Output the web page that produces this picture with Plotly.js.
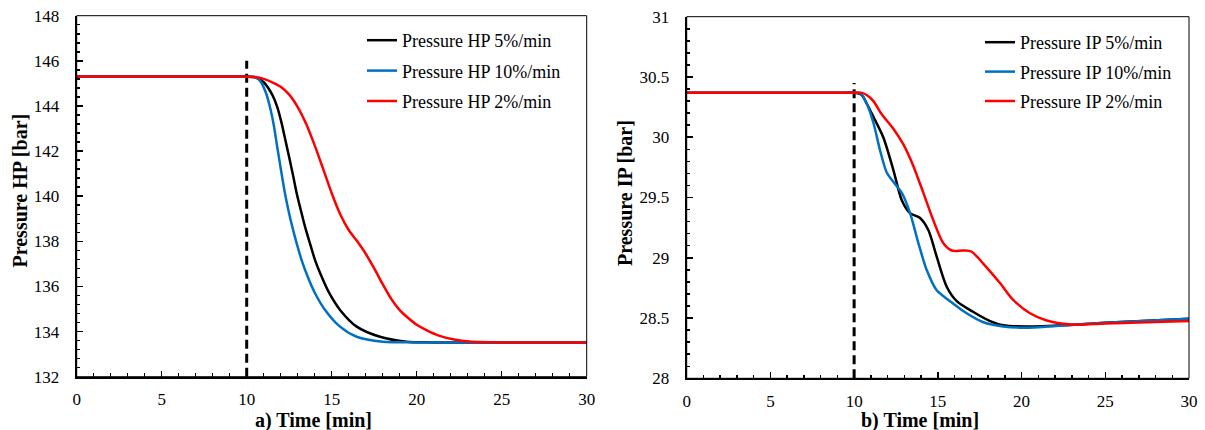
<!DOCTYPE html>
<html>
<head>
<meta charset="utf-8">
<script src="https://cdn.plot.ly/plotly-3.0.1.min.js"></script>
<style>html,body{margin:0;padding:0;background:#fff;}#chart{width:1205px;height:430px;}</style>
</head>
<body>
<div id="chart"></div>
<script>
// ---- Data ----
// a) HP pressure
const timeHP5  = [0, 5, 9, 9.5, 10, 10.5, 11.0, 11.5, 11.8, 12.05, 12.3, 12.55, 12.74, 12.94, 13.18, 13.43, 13.72, 14.02, 14.41, 14.86, 15.49, 16.47, 17.84, 19.4, 21, 25, 30];
const hp5      = [145.3, 145.3, 145.3, 145.3, 145.3, 145.27, 145.05, 144.5, 143.95, 143.25, 142.4, 141.55, 140.87, 140.13, 139.39, 138.65, 137.91, 137.17, 136.43, 135.70, 134.96, 134.22, 133.77, 133.55, 133.52, 133.52, 133.52];
const timeHP10 = [0, 5, 9, 9.5, 10, 10.5, 10.8, 11.14, 11.41, 11.61, 11.76, 11.92, 12.08, 12.25, 12.45, 12.68, 12.94, 13.23, 13.59, 14.02, 14.61, 15.49, 16.47, 18.0, 20, 25, 30];
const hp10     = [145.3, 145.3, 145.3, 145.3, 145.3, 145.28, 145.1, 144.56, 143.82, 143.08, 142.35, 141.61, 140.87, 140.13, 139.39, 138.65, 137.91, 137.17, 136.43, 135.70, 134.96, 134.22, 133.77, 133.55, 133.52, 133.52, 133.52];
const timeHP2  = [0, 5, 9, 9.5, 10, 10.5, 11.0, 11.5, 12.0, 12.5, 13.0, 13.5, 14.0, 14.5, 15.0, 15.5, 16.0, 16.5, 17.0, 17.5, 18.0, 18.5, 19.0, 19.5, 20.0, 20.6, 21.3, 22.2, 23.1, 25, 30];
const hp2      = [145.3, 145.3, 145.3, 145.3, 145.3, 145.28, 145.2, 145.05, 144.85, 144.5, 143.95, 143.2, 142.25, 141.2, 140.13, 139.2, 138.5, 138.0, 137.45, 136.8, 136.1, 135.45, 134.95, 134.6, 134.3, 134.05, 133.82, 133.65, 133.56, 133.52, 133.52];
// b) IP pressure
const timeIP5  = [0, 5, 9, 9.5, 10, 10.45, 10.75, 11.15, 11.74, 12.34, 12.84, 13.34, 13.94, 14.43, 14.93, 15.53, 16.13, 17.12, 18.12, 18.9, 20.3, 23.1, 25, 30];
const ip5      = [30.37, 30.37, 30.37, 30.37, 30.37, 30.35, 30.28, 30.17, 30.0, 29.73, 29.48, 29.37, 29.33, 29.23, 29.01, 28.76, 28.64, 28.55, 28.475, 28.44, 28.43, 28.445, 28.46, 28.495];
const timeIP10 = [0, 5, 9, 9.5, 10, 10.4, 10.75, 11.15, 11.55, 11.94, 12.34, 12.84, 13.34, 13.84, 14.33, 14.93, 15.73, 16.72, 17.72, 18.9, 20.3, 23.1, 25, 30];
const ip10     = [30.37, 30.37, 30.37, 30.37, 30.37, 30.36, 30.28, 30.12, 29.89, 29.71, 29.63, 29.54, 29.37, 29.12, 28.90, 28.73, 28.64, 28.54, 28.465, 28.43, 28.42, 28.445, 28.46, 28.495];
const timeIP2  = [0, 5, 9, 9.5, 10, 10.4, 10.75, 11.15, 11.65, 12.34, 12.94, 13.54, 14.13, 14.73, 15.33, 15.83, 16.53, 17.02, 17.72, 18.71, 19.5, 20.5, 21.5, 23.1, 25, 30];
const ip2      = [30.37, 30.37, 30.37, 30.37, 30.37, 30.37, 30.35, 30.30, 30.19, 30.07, 29.94, 29.76, 29.54, 29.31, 29.12, 29.06, 29.06, 29.05, 28.95, 28.79, 28.65, 28.54, 28.48, 28.445, 28.455, 28.475];
// step marker (dashed vertical line)
const stepTime = [10, 10];
const stepHP   = [132, 146];
const stepIP   = [28, 30.45];
// labels
const namesHP = ['Pressure HP 5%/min', 'Pressure HP 10%/min', 'Pressure HP 2%/min'];
const namesIP = ['Pressure IP 5%/min', 'Pressure IP 10%/min', 'Pressure IP 2%/min'];
const colors  = ['#000000', '#0070C0', '#FF0000'];
const xTitleA = 'a) Time [min]';
const xTitleB = 'b) Time [min]';
const yTitleA = 'Pressure HP [bar]';
const yTitleB = 'Pressure IP [bar]';

// ---- Traces ----
const FONT = 'Liberation Serif, Times New Roman, serif';
function curve(x, y, name, color, xa, ya, leg, grp) {
  return {x: x, y: y, name: name, type: 'scatter', mode: 'lines',
          line: {color: color, width: 2.5, shape: 'spline', smoothing: 0.8},
          xaxis: xa, yaxis: ya, legend: leg, legendgroup: grp, hoverinfo: 'skip'};
}
const data = [
  {x: stepTime, y: stepHP, type: 'scatter', mode: 'lines', showlegend: false,
   line: {color: '#000', width: 3, dash: '9px,5px'}, xaxis: 'x', yaxis: 'y'},
  {x: stepTime, y: stepIP, type: 'scatter', mode: 'lines', showlegend: false,
   line: {color: '#000', width: 3, dash: '9px,5px'}, xaxis: 'x2', yaxis: 'y2'},
  curve(timeHP5,  hp5,  namesHP[0], colors[0], 'x', 'y', 'legend', 'a1'),
  curve(timeHP10, hp10, namesHP[1], colors[1], 'x', 'y', 'legend', 'a2'),
  curve(timeHP2,  hp2,  namesHP[2], colors[2], 'x', 'y', 'legend', 'a3'),
  curve(timeIP5,  ip5,  namesIP[0], colors[0], 'x2', 'y2', 'legend2', 'b1'),
  curve(timeIP10, ip10, namesIP[1], colors[1], 'x2', 'y2', 'legend2', 'b2'),
  curve(timeIP2,  ip2,  namesIP[2], colors[2], 'x2', 'y2', 'legend2', 'b3'),
];

// ---- Layout ----
const tickFont = {family: FONT, size: 17, color: '#000'};
function xax(domain, anchor) {
  return {domain: domain, anchor: anchor, range: [0, 30], tick0: 0, dtick: 5,
          ticks: 'inside', ticklen: 6, tickwidth: 1.5, tickcolor: '#000',
          showline: true, linewidth: 2, linecolor: '#000', showgrid: false, zeroline: false,
          minor: {ticks: 'inside', dtick: 1, ticklen: 3.5, tickwidth: 1.5, tickcolor: '#000', showgrid: false},
          tickfont: tickFont, ticklabelstandoff: 6, fixedrange: true};
}
function yax(domain, anchor, range, dtick, mdtick) {
  return {domain: domain, anchor: anchor, range: range, tick0: range[0], dtick: dtick,
          ticks: 'inside', ticklen: 6, tickwidth: 1.5, tickcolor: '#000',
          showline: true, linewidth: 2, linecolor: '#000', showgrid: false, zeroline: false,
          minor: {ticks: 'inside', dtick: mdtick, ticklen: 3.5, tickwidth: 1.5, tickcolor: '#000', showgrid: false},
          tickfont: tickFont, ticklabelstandoff: 12, fixedrange: true};
}
const legFont = {family: FONT, size: 18, color: '#000'};
const titleFont = {family: FONT, size: 20, color: '#000', weight: 'bold'};
const layout = {
  width: 1205, height: 430,
  margin: {l: 0, r: 0, t: 0, b: 0},
  paper_bgcolor: '#fff', plot_bgcolor: '#fff',
  showlegend: true,
  xaxis: xax([76.7/1205, 586.7/1205], 'y'),
  yaxis: yax([53.3/430, 414.3/430], 'x', [132, 148], 2, 0.4),
  xaxis2: xax([686.7/1205, 1189/1205], 'y2'),
  yaxis2: yax([51.7/430, 413.3/430], 'x2', [28, 31], 0.5, 0.1),
  legend: {x: 362/1205, xanchor: 'left', y: 1 - 22/430, yanchor: 'top', font: legFont,
           bgcolor: 'rgba(0,0,0,0)', borderwidth: 0, traceorder: 'grouped', tracegroupgap: 4},
  legend2: {x: 980/1205, xanchor: 'left', y: 1 - 24/430, yanchor: 'top', font: legFont,
           bgcolor: 'rgba(0,0,0,0)', borderwidth: 0, traceorder: 'grouped', tracegroupgap: 3},
  shapes: [
    {type: 'rect', xref: 'x domain', yref: 'y domain', x0: 0, x1: 1, y0: 0, y1: 1,
     line: {color: '#000', width: 1}, layer: 'above'},
    {type: 'rect', xref: 'x2 domain', yref: 'y2 domain', x0: 0, x1: 1, y0: 0, y1: 1,
     line: {color: '#000', width: 1}, layer: 'above'}
  ],
  annotations: [
    {text: xTitleA, xref: 'paper', yref: 'paper', x: 313/1205, y: 1 - 420/430,
     xanchor: 'center', yanchor: 'middle', showarrow: false, font: titleFont},
    {text: xTitleB, xref: 'paper', yref: 'paper', x: 920/1205, y: 1 - 420/430,
     xanchor: 'center', yanchor: 'middle', showarrow: false, font: titleFont},
    {text: yTitleA, xref: 'paper', yref: 'paper', x: 19.5/1205, y: 1 - 191/430,
     xanchor: 'center', yanchor: 'middle', textangle: -90, showarrow: false, font: titleFont},
    {text: yTitleB, xref: 'paper', yref: 'paper', x: 625/1205, y: 1 - 193/430,
     xanchor: 'center', yanchor: 'middle', textangle: -90, showarrow: false, font: titleFont}
  ]
};
Plotly.newPlot('chart', data, layout, {displayModeBar: false, staticPlot: true});
</script>
</body>
</html>
